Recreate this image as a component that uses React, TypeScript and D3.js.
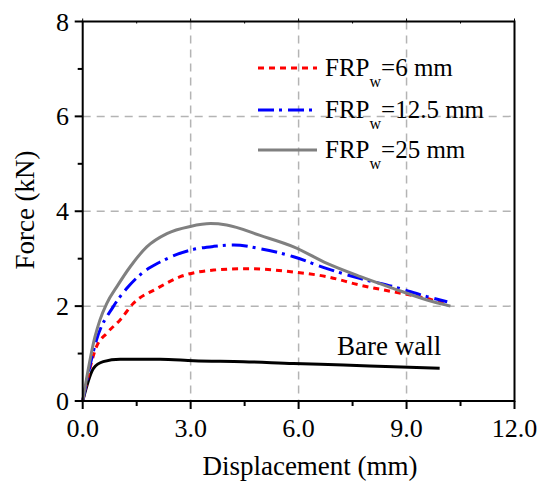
import React from "react";
import * as d3 from "d3";

const xTicks = [0, 3, 6, 9, 12];
const xMinor = [1.5, 4.5, 7.5, 10.5];
const yTicks = [0, 2, 4, 6, 8];
const yMinor = [1, 3, 5, 7];

const frp25D = [0, 0.34, 0.48, 0.67, 0.95, 1.32, 1.78, 2.34, 2.99, 3.55, 4.0, 4.93, 5.86, 6.79, 7.72, 8.64, 9.57, 10.22];
const frp25F = [0, 1.35, 1.71, 2.06, 2.41, 2.83, 3.25, 3.53, 3.68, 3.74, 3.71, 3.49, 3.25, 2.9, 2.62, 2.37, 2.13, 2.0];

const frp125D = [0, 0.38, 0.85, 1.22, 1.69, 2.15, 2.99, 3.64, 4.2, 4.94, 5.86, 6.79, 7.72, 8.64, 9.57, 10.13];
const frp125F = [0, 1.28, 1.99, 2.37, 2.72, 2.93, 3.18, 3.26, 3.29, 3.21, 3.04, 2.79, 2.58, 2.41, 2.2, 2.09];

const frp6D = [0, 0.38, 0.67, 1.04, 1.41, 2.06, 2.71, 3.64, 4.56, 5.86, 6.79, 7.72, 8.64, 9.57, 10.13];
const frp6F = [0, 1.14, 1.43, 1.71, 2.06, 2.37, 2.62, 2.76, 2.79, 2.72, 2.62, 2.44, 2.3, 2.16, 2.04];

const bareD = [0, 0.3, 0.57, 1.04, 2.15, 3.08, 4.47, 5.86, 7.25, 8.64, 9.92];
const bareF = [0, 0.69, 0.83, 0.88, 0.88, 0.85, 0.83, 0.79, 0.76, 0.72, 0.69];

const legendValues = ["6 mm", "12.5 mm", "25 mm"];

const W = 542, H = 486;
const L = 82.7, R = 514.5, T = 21.5, B = 401;
const FONT = "'Liberation Serif', 'Times New Roman', serif";

export default function App() {
  const x = d3.scaleLinear().domain([0, 12]).range([L, R]);
  const y = d3.scaleLinear().domain([0, 8]).range([B, T]);
  const line = d3
    .line<[number, number]>()
    .x((d) => x(d[0]))
    .y((d) => y(d[1]))
    .curve(d3.curveMonotoneX);
  const zip = (a: number[], b: number[]) => a.map((v, i) => [v, b[i]] as [number, number]);

  const series = [
    { d: zip(bareD, bareF), color: "#000", dash: undefined as string | undefined, w: 3 },
    { d: zip(frp6D, frp6F), color: "#ff0000", dash: "6,5", w: 3 },
    { d: zip(frp125D, frp125F), color: "#0000ff", dash: "16,5,3,6", w: 3 },
    { d: zip(frp25D, frp25F), color: "#808080", dash: undefined, w: 3 },
  ];
  const legend = [
    { color: "#ff0000", dash: "6,5", label: legendValues[0], ly: 68 },
    { color: "#0000ff", dash: "16,5,3,6", label: legendValues[1], ly: 110 },
    { color: "#808080", dash: undefined as string | undefined, label: legendValues[2], ly: 150 },
  ];

  return (
    <svg width={W} height={H} style={{ position: "absolute", left: 0, top: 0, background: "#fff" }} fontFamily={FONT}>
      <rect x={0} y={0} width={W} height={H} fill="#fff" />
      {xTicks.slice(1, -1).map((t) => (
        <line key={"gx" + t} x1={x(t)} x2={x(t)} y1={T} y2={B} stroke="#b4b4b4" strokeWidth={1.5} strokeDasharray="8,6" />
      ))}
      {yTicks.slice(1, -1).map((t) => (
        <line key={"gy" + t} x1={L} x2={R} y1={y(t)} y2={y(t)} stroke="#b4b4b4" strokeWidth={1.5} strokeDasharray="8,6" />
      ))}
      {series.map((s, i) => (
        <path key={i} d={line(s.d) || ""} fill="none" stroke={s.color} strokeWidth={s.w} strokeDasharray={s.dash} strokeLinejoin="round" />
      ))}
      <rect x={L} y={T} width={R - L} height={B - T} fill="none" stroke="#000" strokeWidth={2} />
      {xTicks.map((t) => (
        <g key={"xt" + t}>
          <line x1={x(t)} x2={x(t)} y1={B} y2={B + 8} stroke="#000" strokeWidth={2} />
          <line x1={x(t)} x2={x(t)} y1={T} y2={T - 3} stroke="#000" strokeWidth={1} />
          <text x={x(t)} y={437} fontSize={26} textAnchor="middle">{t.toFixed(1)}</text>
        </g>
      ))}
      {xMinor.map((t) => (
        <g key={"xm" + t}>
          <line x1={x(t)} x2={x(t)} y1={B} y2={B + 5} stroke="#000" strokeWidth={2} />
          <line x1={x(t)} x2={x(t)} y1={T} y2={T + 2} stroke="#000" strokeWidth={1} />
        </g>
      ))}
      {yTicks.map((t) => (
        <g key={"yt" + t}>
          <line x1={L} x2={L - 8} y1={y(t)} y2={y(t)} stroke="#000" strokeWidth={2} />
          <text x={69} y={y(t) + 9} fontSize={26} textAnchor="end">{t}</text>
        </g>
      ))}
      {yMinor.map((t) => (
        <line key={"ym" + t} x1={L} x2={L - 5} y1={y(t)} y2={y(t)} stroke="#000" strokeWidth={2} />
      ))}
      <text x={310} y={475} fontSize={27} textAnchor="middle">Displacement (mm)</text>
      <text transform="translate(34,210) rotate(-90)" fontSize={27} textAnchor="middle">Force (kN)</text>
      <text x={337} y={355} fontSize={27}>Bare wall</text>
      {legend.map((l, i) => (
        <g key={"lg" + i}>
          <line x1={258} x2={317} y1={l.ly} y2={l.ly} stroke={l.color} strokeWidth={3} strokeDasharray={l.dash} />
          <text x={325} y={l.ly + 8} fontSize={25}>
            FRP
            <tspan dy={11} fontSize={16}>w</tspan>
            <tspan dy={-11}>={l.label}</tspan>
          </text>
        </g>
      ))}
    </svg>
  );
}
